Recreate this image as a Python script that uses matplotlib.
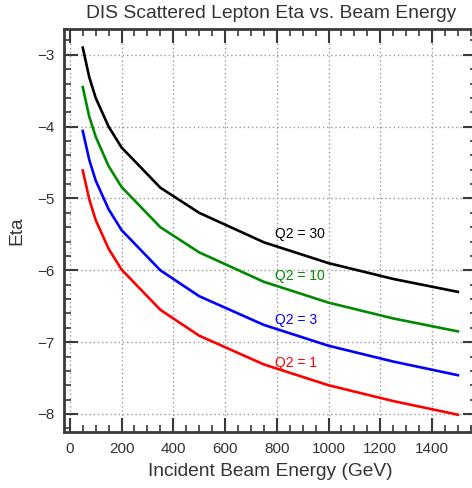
import matplotlib.pyplot as plt
from matplotlib.ticker import MultipleLocator

# --- DATA ---
energy = [50, 75, 100, 150, 200, 350, 500, 750, 1000, 1250, 1500]
eta_q2_1 = [-4.61, -5.01, -5.30, -5.70, -5.99, -6.55, -6.91, -7.31, -7.60, -7.82, -8.01]
eta_q2_3 = [-4.06, -4.46, -4.75, -5.15, -5.44, -6.00, -6.36, -6.76, -7.05, -7.27, -7.46]
eta_q2_10 = [-3.45, -3.86, -4.14, -4.55, -4.84, -5.40, -5.75, -6.16, -6.45, -6.67, -6.85]
eta_q2_30 = [-2.90, -3.31, -3.60, -4.00, -4.29, -4.85, -5.20, -5.61, -5.90, -6.12, -6.30]

labels = ["Q2 = 1", "Q2 = 3", "Q2 = 10", "Q2 = 30"]
colors = ["#ff0000", "#0000ff", "#008a00", "#000000"]
label_pos = [(795, -7.34), (795, -6.75), (795, -6.14), (795, -5.55)]

plt.rcParams['font.family'] = ['Liberation Sans', 'DejaVu Sans']
plt.rcParams['axes.unicode_minus'] = True

fig = plt.figure(figsize=(4.72, 4.88), dpi=100)
ax = fig.add_axes([64 / 472, (488 - 432.3) / 488, (476.6 - 64) / 472, (432.3 - 29.3) / 488])

frame = "#3a3a3a"
for lab, col, eta, pos in zip(labels, colors,
                              [eta_q2_1, eta_q2_3, eta_q2_10, eta_q2_30], label_pos):
    ax.plot(energy, eta, color=col, lw=1.9, solid_joinstyle='round', zorder=3)
    ax.text(pos[0], pos[1], lab, color=col, fontsize=10, ha='left', va='baseline')

ax.set_xlim(-22.5, 1572.5)
ax.set_ylim(-8.255, -2.645)
ax.xaxis.set_major_locator(MultipleLocator(200))
ax.xaxis.set_minor_locator(MultipleLocator(50))
ax.yaxis.set_major_locator(MultipleLocator(1))
ax.yaxis.set_minor_locator(MultipleLocator(0.2))

ax.tick_params(which='both', direction='in', top=True, right=True, colors=frame,
               labelcolor="#333333", labelsize=11)
ax.tick_params(which='major', length=10, width=1.5, pad=7)
ax.tick_params(which='minor', length=5, width=1.2)
for sp in ax.spines.values():
    sp.set_color(frame)
    sp.set_linewidth(2)

ax.grid(True, which='major', linestyle=(0, (1, 2)), color='#999999', linewidth=1)

ax.set_xlabel("Incident Beam Energy (GeV)", fontsize=13.8, color="#333333", labelpad=5)
ax.set_ylabel("Eta", fontsize=13.8, color="#333333", labelpad=8)
fig.text(271 / 472, 1 - 18.3 / 488, "DIS Scattered Lepton Eta vs. Beam Energy",
         ha='center', va='baseline', fontsize=13.9, color="#333333")

fig.savefig("out.png", dpi=100)
